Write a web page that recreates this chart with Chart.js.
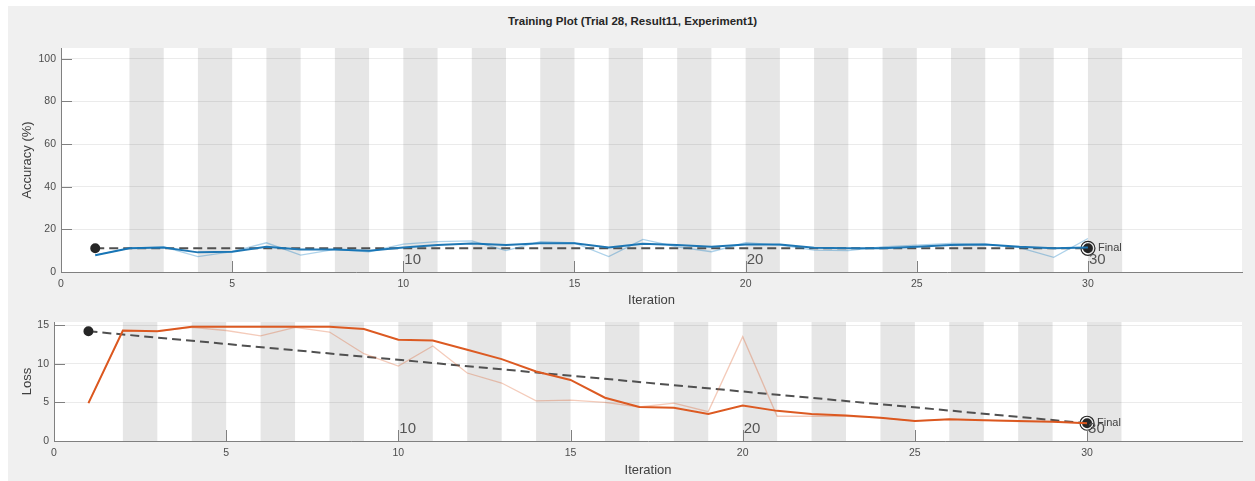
<!DOCTYPE html>
<html>
<head>
<meta charset="utf-8">
<script src="https://cdn.jsdelivr.net/npm/chart.js@4.4.0/dist/chart.umd.min.js"></script>
<style>
  body { margin: 0; width: 1255px; height: 481px; overflow: hidden; position: relative; background: #fff;
         font-family: "Liberation Sans", Arial, sans-serif; }
  #panel { position: absolute; left: 8px; top: 6px; width: 1247px; height: 475px; background: #f0f0f0; }
  #title { position: absolute; left: 0; top: 15px; width: 1265px; text-align: center;
           font-weight: bold; font-size: 11.5px; color: #262626; }
  #accCanvas { position: absolute; left: 0; top: 0; }
  #lossCanvas { position: absolute; left: 0; top: 310px; }
</style>
</head>
<body>
<div id="panel"></div>
<div id="title">Training Plot (Trial 28, Result11, Experiment1)</div>
<canvas id="accCanvas" width="1255" height="310"></canvas>
<canvas id="lossCanvas" width="1255" height="171"></canvas>
<script>
// iterations 1..30
var iterations = [1, 2, 3, 4, 5, 6, 7, 8, 9, 10, 11, 12, 13, 14, 15, 16, 17, 18, 19, 20, 21, 22, 23, 24, 25, 26, 27, 28, 29, 30];

var accuracyRaw = [7.9, 11.2, 11.8, 7.2, 9.5, 13.7, 7.9, 10.6, 9.5, 13.1, 14.2, 14.6, 10.0, 14.2, 13.7,
                   7.2, 15.3, 11.8, 9.5, 13.7, 12.6, 10.3, 10.0, 11.8, 12.6, 13.4, 13.1, 11.4, 6.9, 15.7];
var accuracySmooth = [7.9, 11.1, 11.5, 9.2, 9.5, 11.8, 10.6, 10.6, 10.0, 11.5, 12.6, 13.4, 12.6, 13.5, 13.5,
                      11.5, 13.2, 12.6, 11.8, 12.9, 12.9, 11.4, 11.1, 11.1, 11.8, 12.6, 12.9, 11.8, 11.1, 11.5];

var lossRaw = [4.9, 14.2, 14.2, 14.7, 14.3, 13.6, 14.7, 14.1, 11.3, 9.7, 12.3, 8.8, 7.5, 5.2, 5.3,
               5.0, 4.4, 4.9, 3.8, 13.5, 3.2, 3.2, 3.2, 3.0, 2.6, 2.8, 2.7, 2.5, 2.5, 2.3];
var lossSmooth = [4.9, 14.3, 14.2, 14.8, 14.8, 14.8, 14.8, 14.8, 14.5, 13.1, 13.0, 11.8, 10.6, 9.0, 7.9,
                  5.6, 4.4, 4.3, 3.5, 4.6, 3.9, 3.5, 3.3, 3.0, 2.6, 2.8, 2.7, 2.6, 2.5, 2.3];

// validation points (start and final)
var valIterations = [1, 30];
var valAccuracy = [11.1, 11.1];
var valLoss = [14.2, 2.3];

// shaded epochs start here, each one iteration wide
var epochBands = [2, 4, 6, 8, 10, 12, 14, 16, 18, 20, 22, 24, 26, 28, 30];
var epochLabels = [10, 20, 30];
var xTicks = [0, 5, 10, 15, 20, 25, 30];

function pts(xs, ys) {
    return xs.map(function(x, i) { return { x: x, y: ys[i] }; });
}

function trainingPlugin(yTicks) {
    return {
        id: 'training',
        beforeDraw: function(chart) {
            var ctx = chart.ctx, a = chart.chartArea, xs = chart.scales.x;
            ctx.save();
            ctx.fillStyle = '#ffffff';
            ctx.fillRect(a.left, a.top, a.right - a.left, a.bottom - a.top);
            ctx.fillStyle = '#e6e6e6';
            epochBands.forEach(function(b) {
                var x0 = xs.getPixelForValue(b), x1 = xs.getPixelForValue(b + 1);
                ctx.fillRect(x0, a.top, x1 - x0, a.bottom - a.top);
            });
            ctx.restore();
        },
        afterDraw: function(chart) {
            var ctx = chart.ctx, a = chart.chartArea, xs = chart.scales.x, ys = chart.scales.y;
            ctx.save();
            // inward tick marks
            ctx.strokeStyle = '#808080';
            ctx.lineWidth = 1;
            ctx.beginPath();
            xTicks.forEach(function(t) {
                var px = Math.round(xs.getPixelForValue(t)) + 0.5;
                ctx.moveTo(px, a.bottom);
                ctx.lineTo(px, a.bottom - 11);
            });
            yTicks.forEach(function(t) {
                var py = Math.round(ys.getPixelForValue(t)) + 0.5;
                ctx.moveTo(a.left, py);
                ctx.lineTo(a.left + 11, py);
            });
            ctx.stroke();
            // epoch numbers
            ctx.fillStyle = '#555555';
            ctx.font = '15px "Liberation Sans", Arial, sans-serif';
            ctx.textBaseline = 'middle';
            epochLabels.forEach(function(e) {
                ctx.fillText(String(e), xs.getPixelForValue(e) + 1, a.bottom - 12);
            });
            // final label
            var fin = chart.data.datasets[3].data[0];
            ctx.fillStyle = '#404040';
            ctx.font = '11px "Liberation Sans", Arial, sans-serif';
            ctx.fillText('Final', xs.getPixelForValue(fin.x) + 10, ys.getPixelForValue(fin.y));
            ctx.restore();
        }
    };
}

function makeChart(id, cfg) {
    var ctx = document.getElementById(id).getContext('2d');
    var lastIdx = valIterations.length - 1;
    return new Chart(ctx, {
        type: 'line',
        data: {
            datasets: [
                { data: pts(iterations, cfg.raw), borderColor: cfg.light, borderWidth: 1.3,
                  pointRadius: 0, tension: 0 },
                { data: pts(iterations, cfg.smooth), borderColor: cfg.dark, borderWidth: 2,
                  pointRadius: 0, tension: 0 },
                { data: pts(valIterations, cfg.val), borderColor: '#505050', borderWidth: 2,
                  borderDash: [9, 5], pointRadius: 4, pointBackgroundColor: '#262626',
                  pointBorderColor: '#262626', tension: 0 },
                { data: [{ x: valIterations[lastIdx], y: cfg.val[lastIdx] }], showLine: false,
                  pointRadius: 7, pointBorderWidth: 1.2, pointBorderColor: '#262626',
                  pointBackgroundColor: 'rgba(0,0,0,0)' }
            ]
        },
        options: {
            responsive: false,
            animation: false,
            layout: { padding: { left: 0, right: 13, top: cfg.padTop, bottom: 0 } },
            plugins: { legend: { display: false }, tooltip: { enabled: false } },
            scales: {
                x: {
                    type: 'linear', min: 0, max: 34.5,
                    afterFit: function(s) { s.height = cfg.xHeight; },
                    ticks: { stepSize: 5, includeBounds: false, color: '#4d4d4d', padding: 6,
                             maxRotation: 0, font: { size: 10.5 } },
                    grid: { display: false, drawTicks: false },
                    border: { color: '#808080', width: 1 },
                    title: { display: true, text: 'Iteration', color: '#404040', font: { size: 13 },
                             padding: { top: 0, bottom: cfg.xTitlePad } }
                },
                y: {
                    min: 0, max: cfg.yMax,
                    afterFit: function(s) { s.width = cfg.yWidth; },
                    ticks: { stepSize: cfg.yStep, includeBounds: false, color: '#4d4d4d', padding: 5,
                             font: { size: 10.5 } },
                    grid: { color: 'rgba(0,0,0,0.08)', drawTicks: false },
                    border: { color: '#808080', width: 1 },
                    title: { display: true, text: cfg.yTitle, color: '#404040', font: { size: 13 },
                             padding: { top: 20, bottom: 0 } }
                }
            }
        },
        plugins: [trainingPlugin(cfg.yTicks)]
    });
}

makeChart('accCanvas', {
    raw: accuracyRaw, smooth: accuracySmooth, val: valAccuracy,
    light: 'rgba(0,114,189,0.32)', dark: '#1f77b4',
    yMax: 105, yStep: 20, yTicks: [0, 20, 40, 60, 80, 100], yTitle: 'Accuracy (%)',
    padTop: 48, yWidth: 61, xHeight: 38, xTitlePad: 2
});

makeChart('lossCanvas', {
    raw: lossRaw, smooth: lossSmooth, val: valLoss,
    light: 'rgba(217,83,25,0.3)', dark: '#dc5a22',
    yMax: 15.4, yStep: 5, yTicks: [0, 5, 10, 15], yTitle: 'Loss',
    padTop: 12, yWidth: 54, xHeight: 40, xTitlePad: 3
});
</script>
</body>
</html>
